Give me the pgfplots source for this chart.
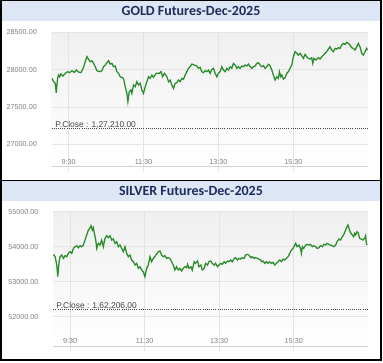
\documentclass[border=0pt]{standalone}
\usepackage{pgfplots}
\usepackage{pgfplotstable}
\pgfplotsset{compat=1.18}
\usepackage{fontspec}
\setmainfont{Liberation Sans}
\newfontfamily\titlefont{Carlito}
\definecolor{band}{HTML}{DCE6F4}
\definecolor{titlec}{HTML}{1F2D5C}
\definecolor{lineg}{HTML}{2A8C2A}
\definecolor{gridc}{HTML}{E4E4E4}
\definecolor{tickc}{HTML}{808080}
\definecolor{pclose}{HTML}{454545}

\pgfplotstableread{
t v
543.4 27882
546.0 27838
548.7 27816
550.3 27691
552.4 27882
554.0 27927
555.6 27904
557.8 27940
561.0 27913
564.7 27949
568.4 27971
571.6 27958
575.4 27984
579.1 27962
582.3 27993
586.0 27967
589.8 27958
594.0 28029
596.7 28104
599.4 28171
602.0 28136
604.7 28104
607.4 28118
610.0 28082
612.7 28038
615.4 27984
619.6 27971
623.4 27984
626.0 28038
628.7 28060
631.4 28091
634.0 28118
636.7 28073
639.4 28082
642.0 28038
644.7 28047
647.4 27971
650.0 27949
652.7 27904
655.4 27896
658.0 27882
660.7 27771
663.4 27682
665.0 27571
667.1 27704
669.8 27727
671.4 27682
674.0 27793
676.7 27771
679.4 27838
682.0 27793
684.7 27816
687.4 27727
690.0 27682
692.7 27771
695.4 27838
698.0 27904
700.7 27882
703.4 27927
706.0 27896
710.3 27949
715.1 27949
718.3 27971
720.4 27904
723.6 27949
727.4 27904
730.0 27838
732.7 27860
735.4 27793
738.0 27749
740.7 27816
743.4 27824
746.0 27860
748.7 27838
751.4 27882
754.0 27869
756.7 27927
759.4 27971
762.0 28016
764.7 28038
767.4 28073
771.6 28060
775.4 28047
778.0 28016
780.7 28029
783.4 27971
786.0 27958
788.7 27984
791.4 27971
794.0 27993
796.7 27949
799.4 28002
802.0 28016
804.7 27949
807.4 27904
810.0 27949
812.7 27971
815.4 28038
818.0 27993
820.7 27971
823.4 28016
826.0 27993
828.7 28038
831.4 28016
834.0 28082
836.7 28060
839.4 28016
842.0 28038
844.7 28016
847.4 28047
850.0 28038
852.7 28060
855.4 28047
858.0 28073
860.7 28038
863.4 28016
866.0 28038
868.7 28047
871.4 28082
874.0 28091
876.7 28060
879.4 28038
882.0 28051
884.7 28016
887.4 28038
890.0 28069
892.7 28051
895.4 27993
898.0 27927
900.7 27860
903.4 27904
906.0 27882
907.6 27971
909.8 27904
911.4 27927
914.0 27873
916.7 27891
919.4 27949
922.0 27971
924.7 28016
927.4 28060
930.0 28171
932.7 28238
935.4 28216
938.0 28193
940.7 28216
943.4 28184
946.0 28149
948.7 28202
951.4 28171
954.0 28149
956.7 28140
959.4 28158
961.0 28082
963.1 28149
966.3 28127
970.0 28158
972.7 28140
975.4 28171
978.0 28193
980.7 28216
983.4 28238
986.0 28273
988.7 28304
991.4 28260
994.0 28238
996.7 28282
999.4 28273
1002.0 28291
1004.7 28282
1007.4 28327
1010.0 28349
1012.7 28336
1015.4 28362
1018.0 28349
1020.7 28327
1023.4 28291
1026.0 28282
1028.7 28260
1031.4 28304
1034.0 28349
1036.7 28304
1039.4 28216
1042.0 28193
1044.7 28238
1047.4 28282
1048.4 28260
}\golddata

\pgfplotstableread{
t v
543.2 53782
545.9 53715
548.6 53477
550.2 53144
552.3 53572
553.9 53715
556.6 53763
559.3 53667
562.0 53744
564.6 53715
567.3 53810
570.0 53858
572.7 53810
575.4 53953
578.0 54001
580.7 54029
583.4 53972
586.1 54029
588.8 54001
591.4 54048
594.1 54191
596.8 54334
599.5 54477
602.1 54543
603.7 54601
605.9 54477
607.5 54543
609.1 54382
611.3 54191
612.9 53953
615.5 54096
618.2 54048
620.9 54191
623.6 54001
626.2 54239
628.9 54315
631.6 54258
634.3 54315
637.0 54191
639.6 54220
642.3 54096
645.0 54144
647.7 54001
650.4 54048
653.0 53953
655.7 53858
658.4 54001
661.1 53810
663.7 53715
666.4 53763
669.1 53620
671.8 53572
674.5 53477
677.1 53525
679.8 53382
682.5 53429
685.2 53334
687.8 53286
690.5 53144
693.2 53382
695.9 53477
698.6 53715
701.2 53572
703.9 53667
708.2 53763
712.0 53858
714.6 53877
717.3 53763
720.0 53715
722.7 53744
725.3 53667
728.0 53686
730.7 53667
733.4 53572
736.1 53477
738.7 53334
741.4 53429
744.1 53334
746.8 53382
749.4 53305
752.1 53382
754.8 53429
757.5 53401
759.1 53496
761.2 53382
764.4 53429
766.6 53334
769.8 53572
771.9 53525
775.2 53591
777.3 53429
780.5 53477
782.7 53334
785.9 53382
788.0 53525
791.2 53477
793.4 53572
796.6 53591
798.7 53525
801.9 53477
804.1 53525
807.3 53429
809.4 53477
812.7 53525
814.8 53496
818.0 53572
820.2 53525
823.4 53591
825.5 53572
828.7 53620
830.9 53572
834.1 53667
836.2 53686
839.4 53620
841.6 53667
844.8 53648
846.9 53686
850.1 53667
852.3 53763
855.5 53782
857.6 53763
860.9 53686
863.0 53715
866.2 53667
868.4 53686
871.6 53667
873.7 53648
876.9 53620
878.0 53572
880.7 53591
883.4 53525
886.0 53572
888.7 53525
891.4 53572
894.1 53525
896.8 53553
899.4 53477
902.1 53525
904.8 53572
907.5 53620
910.1 53572
912.8 53648
915.5 53620
918.2 53667
920.9 53715
923.5 53810
926.2 53906
928.9 53953
931.6 54048
933.2 54096
935.3 54001
938.5 54048
940.7 53953
942.3 53810
943.9 54001
946.0 53953
949.3 54048
951.4 54067
954.6 54048
956.8 54067
960.0 54001
962.1 54029
965.3 54001
967.5 53953
970.7 53972
972.8 54029
976.0 54001
978.2 54067
981.4 54048
983.6 54096
986.8 54067
988.9 54048
992.1 54029
994.3 54001
997.5 54048
999.6 54144
1002.8 54220
1005.0 54191
1008.2 54287
1010.3 54334
1013.5 54477
1015.7 54572
1017.3 54620
1018.9 54525
1021.1 54411
1024.3 54334
1026.4 54287
1028.0 54382
1029.6 54334
1031.8 54430
1033.9 54382
1036.0 54239
1038.7 54220
1041.4 54191
1044.1 54239
1045.7 54315
1046.8 54096
1047.9 54048
}\silverdata

\pgfplotsset{
  panel/.style={
    scale only axis, anchor=south west, clip=false,
    xmin=543, xmax=1049,
    axis line style={draw=none},
    major tick length=0pt,
    tick style={draw=none},
    grid=major,
    major grid style={draw=gridc, line width=0.6pt},
    axis background/.style={shade, top color=black!6, bottom color=white},
    xtick={570,690,810,930},
    xticklabels={9:30,11:30,13:30,15:30},
    scaled y ticks=false,
    ticklabel style={font=\fontsize{5.4}{6}\selectfont, text=tickc},
    xticklabel style={anchor=base, inner sep=0pt, yshift=1.6pt},
    yticklabel style={anchor=east, inner sep=0pt, xshift=-11pt,
      /pgf/number format/fixed, /pgf/number format/fixed zerofill,
      /pgf/number format/precision=2, /pgf/number format/1000 sep={}},
    /pgf/number format/assume math mode=true,
  },
}

\begin{document}
\begin{tikzpicture}
\begin{scope}[x=0.75pt,y=0.75pt]
\fill[white] (0,0) rectangle (383,362);
\fill[band] (1,341.3) rectangle (381,361);
\fill[band] (1,161.3) rectangle (381,181);
\node[text=titlec, font=\titlefont\bfseries\fontsize{10.5}{12}\selectfont] at (191,351) {GOLD Futures-Dec-2025};
\node[text=titlec, font=\titlefont\bfseries\fontsize{10.5}{12}\selectfont] at (191,171) {SILVER Futures-Dec-2025};
\end{scope}

\begin{axis}[panel, at={(38.775pt,146.475pt)}, width=237pt, height=101pt,
  ymin=26704, ymax=28500, ytick={27000,27500,28000,28500}]
  \draw[gridc, line width=0.6pt] (axis cs:570,26704) -- ([yshift=-4pt]axis cs:570,26704);
  \draw[gridc, line width=0.6pt] (axis cs:690,26704) -- ([yshift=-4pt]axis cs:690,26704);
  \draw[gridc, line width=0.6pt] (axis cs:810,26704) -- ([yshift=-4pt]axis cs:810,26704);
  \draw[gridc, line width=0.6pt] (axis cs:930,26704) -- ([yshift=-4pt]axis cs:930,26704);
  \draw[black!18, line width=0.6pt] (rel axis cs:0,0) -- (rel axis cs:1,0);
  \draw[pclose, line width=0.7pt, dash pattern=on 0.7pt off 0.9pt] (axis cs:543,27210) -- (axis cs:1049,27210);
  \node[anchor=base west, inner sep=0pt, text=pclose, font=\fontsize{6.3}{7}\selectfont] at (axis cs:548.5,27225) {P.Close : 1,27,210.00};
  \addplot[lineg, line width=0.95pt, no markers] table[x=t, y=v] {\golddata};
\end{axis}

\begin{axis}[panel, at={(39.975pt,12pt)}, width=235.8pt, height=100.7pt,
  ymin=51163, ymax=55000, ytick={52000,53000,54000,55000}]
  \draw[gridc, line width=0.6pt] (axis cs:570,51163) -- ([yshift=-4pt]axis cs:570,51163);
  \draw[gridc, line width=0.6pt] (axis cs:690,51163) -- ([yshift=-4pt]axis cs:690,51163);
  \draw[gridc, line width=0.6pt] (axis cs:810,51163) -- ([yshift=-4pt]axis cs:810,51163);
  \draw[gridc, line width=0.6pt] (axis cs:930,51163) -- ([yshift=-4pt]axis cs:930,51163);
  \draw[black!18, line width=0.6pt] (rel axis cs:0,0) -- (rel axis cs:1,0);
  \draw[pclose, line width=0.7pt, dash pattern=on 0.7pt off 0.9pt] (axis cs:543,52206) -- (axis cs:1049,52206);
  \node[anchor=base west, inner sep=0pt, text=pclose, font=\fontsize{6.3}{7}\selectfont] at (axis cs:547.5,52240) {P.Close : 1,62,206.00};
  \addplot[lineg, line width=0.95pt, no markers] table[x=t, y=v] {\silverdata};
\end{axis}

\begin{scope}[x=0.75pt,y=0.75pt]
\draw[black, line width=1.1pt] (1,181.5) -- (381,181.5);
\draw[black, line width=1.1pt] (1,2) rectangle (381,361.5);
\end{scope}
\pgfresetboundingbox
\path[use as bounding box] (0pt,0pt) rectangle (287.25pt,271.5pt);
\end{tikzpicture}
\end{document}
